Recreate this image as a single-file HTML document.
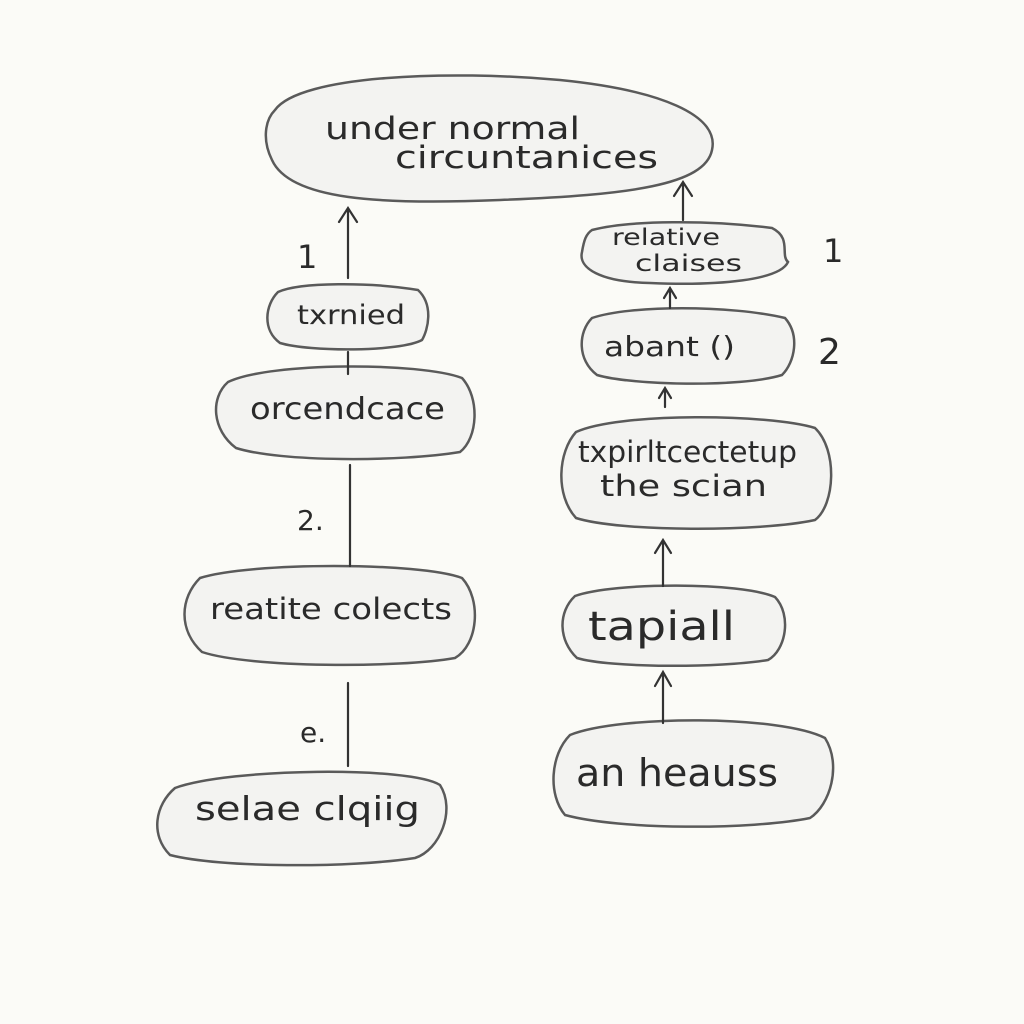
<!DOCTYPE html>
<html><head><meta charset="utf-8"><style>
html,body{margin:0;padding:0;background:#fbfbf7;}
svg{display:block}
text{font-family:"DejaVu Sans","Liberation Sans",sans-serif;fill:#2a2a2a;}
</style></head><body>
<svg width="1024" height="1024" viewBox="0 0 1024 1024">
<rect width="1024" height="1024" fill="#fbfbf7"/>
<g fill="#f3f3f1" stroke="#5a5a5a" stroke-width="2.5">
<path d="M275,110 C300,75 450,70 560,80 C660,90 720,115 712,150 C705,185 630,195 500,200 C380,205 290,200 272,160 C262,140 265,120 275,110Z"/>
<path d="M592,230 C630,220 710,220 772,228 C792,238 780,255 788,262 C780,280 720,286 650,283 C600,282 578,268 582,252 C584,240 586,234 592,230Z"/>
<path d="M278,292 C300,282 370,282 418,290 C434,305 428,330 422,340 C400,352 310,352 280,343 C262,330 265,305 278,292Z"/>
<path d="M592,318 C630,305 730,305 785,318 C800,335 795,362 782,375 C740,388 630,385 597,375 C577,360 578,332 592,318Z"/>
<path d="M228,382 C270,362 420,362 462,378 C480,398 478,438 460,452 C400,462 280,462 236,448 C212,430 210,398 228,382Z"/>
<path d="M576,432 C620,412 770,414 815,428 C838,450 835,505 815,520 C760,532 620,532 576,518 C555,495 558,452 576,432Z"/>
<path d="M200,578 C250,562 420,562 462,578 C482,600 478,645 455,658 C400,668 250,668 202,652 C178,630 180,598 200,578Z"/>
<path d="M575,596 C615,582 740,582 775,597 C792,615 786,650 768,660 C720,668 610,668 577,658 C558,640 558,612 575,596Z"/>
<path d="M175,788 C230,768 410,766 440,785 C456,810 440,850 415,858 C350,868 220,868 170,855 C150,835 155,805 175,788Z"/>
<path d="M570,735 C620,715 780,715 825,738 C842,765 830,805 810,818 C750,830 620,830 565,815 C548,795 550,755 570,735Z"/>
</g>
<g stroke="#333" stroke-width="2.2" fill="none" stroke-linecap="round">
<path d="M348,278 V208 M339,222 L348,208 L357,222"/>
<path d="M348,352 V374"/>
<path d="M350,465 V566"/>
<path d="M348,683 V766"/>
<path d="M683,220 V182 M674,196 L683,182 L692,196"/>
<path d="M670,308 V288 M664,298 L670,288 L676,298"/>
<path d="M665,407 V388 M659,398 L665,388 L671,398"/>
<path d="M663,586 V540 M655,553 L663,540 L671,553"/>
<path d="M663,723 V672 M655,686 L663,672 L671,686"/>
</g>
<g lengthAdjust="spacingAndGlyphs">
<text x="325" y="139" font-size="31" textLength="255" lengthAdjust="spacingAndGlyphs">under normal</text>
<text x="395" y="168" font-size="31" textLength="263" lengthAdjust="spacingAndGlyphs">circuntanices</text>
<text x="612" y="245" font-size="23" textLength="108" lengthAdjust="spacingAndGlyphs">relative</text>
<text x="635" y="271" font-size="23" textLength="107" lengthAdjust="spacingAndGlyphs">claises</text>
<text x="297" y="324" font-size="27" textLength="108" lengthAdjust="spacingAndGlyphs">txrnied</text>
<text x="604" y="356" font-size="28" textLength="131" lengthAdjust="spacingAndGlyphs">abant ()</text>
<text x="250" y="419" font-size="30" textLength="195" lengthAdjust="spacingAndGlyphs">orcendcace</text>
<text x="578" y="462" font-size="29" textLength="219" lengthAdjust="spacingAndGlyphs">txpirltcectetup</text>
<text x="600" y="496" font-size="29" textLength="167" lengthAdjust="spacingAndGlyphs">the scian</text>
<text x="210" y="619" font-size="29" textLength="242" lengthAdjust="spacingAndGlyphs">reatite colects</text>
<text x="588" y="640" font-size="40" textLength="147" lengthAdjust="spacingAndGlyphs">tapiall</text>
<text x="195" y="820" font-size="33" textLength="225" lengthAdjust="spacingAndGlyphs">selae clqiig</text>
<text x="576" y="786" font-size="38" textLength="202" lengthAdjust="spacingAndGlyphs">an heauss</text>
</g>
<text x="297" y="268" font-size="32">1</text>
<text x="823" y="262" font-size="32">1</text>
<text x="818" y="364" font-size="36">2</text>
<text x="297" y="530" font-size="28">2.</text>
<text x="300" y="742" font-size="28">e.</text>
</svg>
</body></html>
